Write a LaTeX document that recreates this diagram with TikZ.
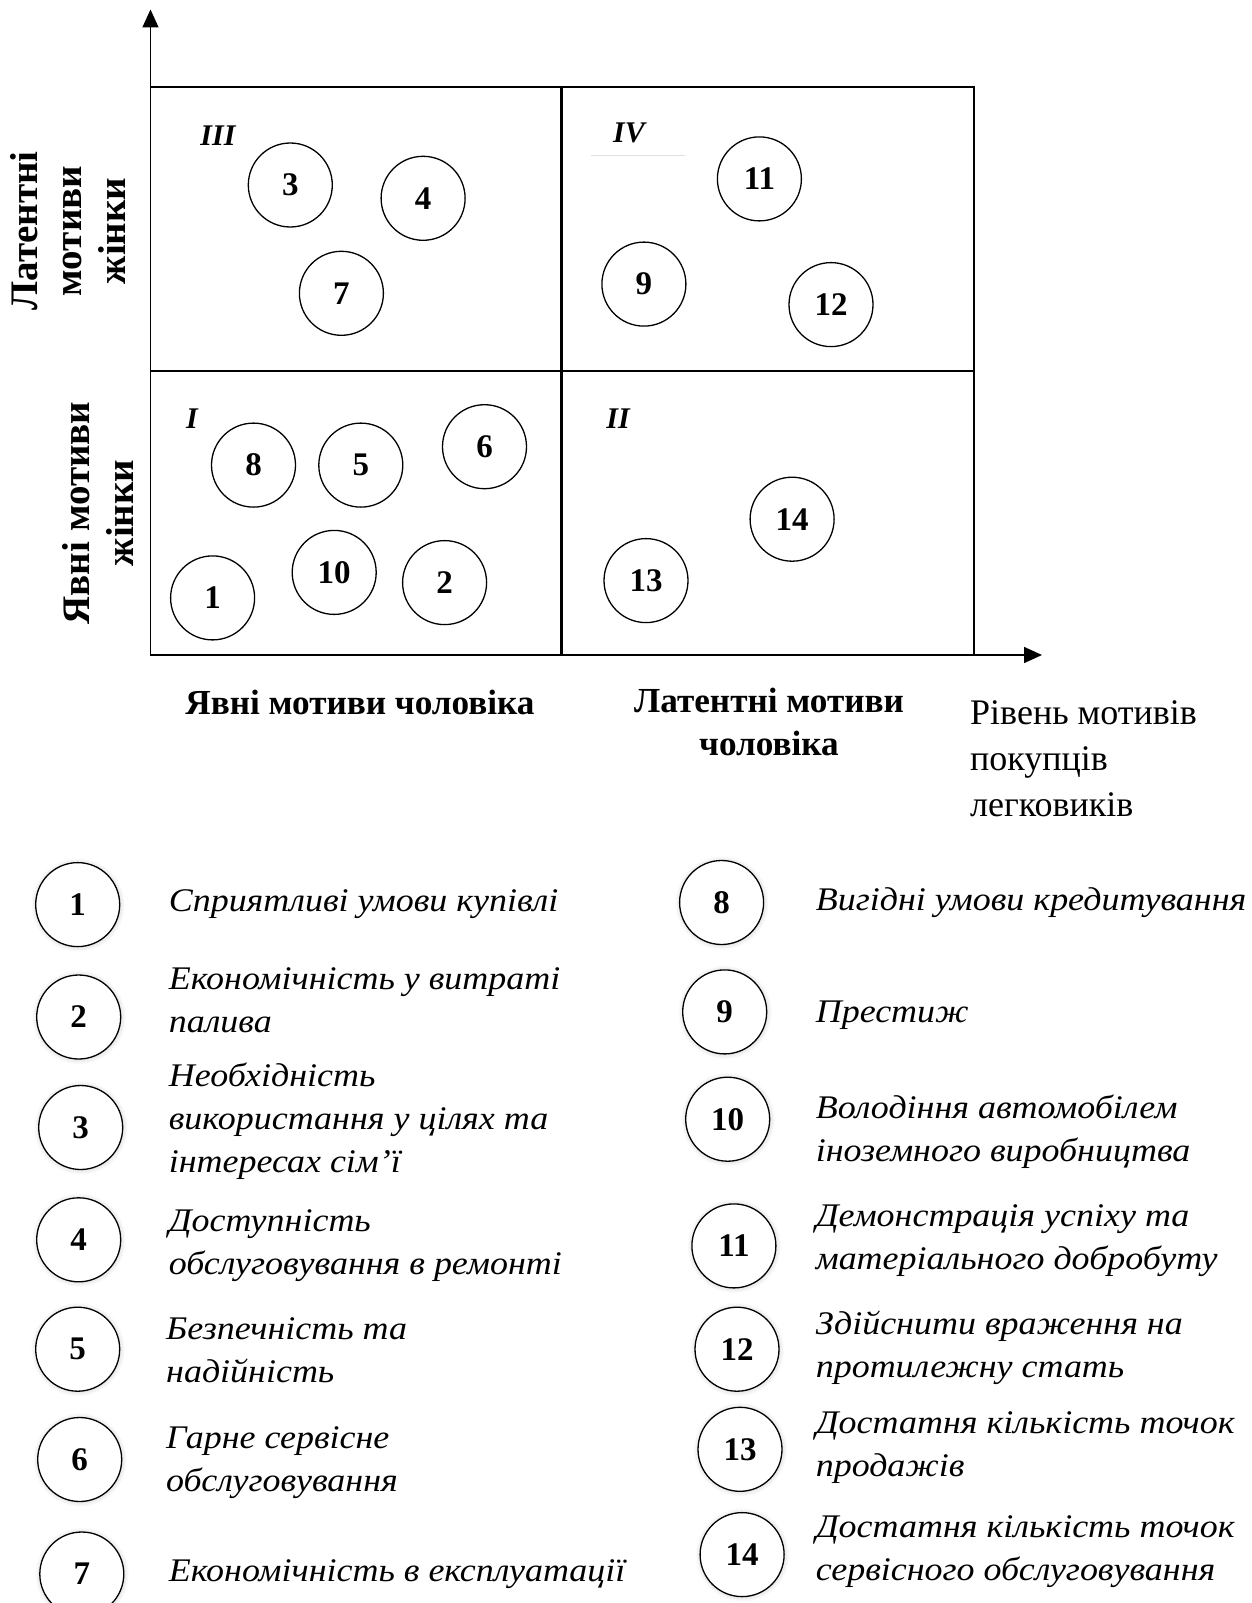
\documentclass[tikz,border=0pt]{standalone}
\usepackage{fontspec}
\setmainfont{Liberation Serif}
\newfontfamily\legfont[FakeStretch=1.09]{Liberation Serif}
\usetikzlibrary{arrows.meta,shadows}
\begin{document}
\begin{tikzpicture}[x=1pt,y=-1pt,
  num/.style={circle,draw,line width=1.3pt,minimum size=84pt,inner sep=0pt,
    font=\bfseries\fontsize{33}{33}\selectfont},
  leg/.style={num,fill=white,circular drop shadow={shadow xshift=0pt,shadow yshift=0pt,shadow scale=1.12,opacity=0.25}},
  roman/.style={font=\bfseries\itshape\fontsize{30}{30}\selectfont},
  axlab/.style={font=\bfseries\fontsize{35.2}{43}\selectfont,align=center},
  vlab/.style={font=\bfseries\fontsize{39}{44}\selectfont,align=center,rotate=90},
  desc/.style={anchor=west,align=left,inner sep=0pt,font=\legfont\itshape\fontsize{33}{43}\selectfont},
  frame/.style={line width=1.8pt},
  axis/.style={line width=1.6pt,-{Triangle[length=18pt,width=16pt]}}]
\useasboundingbox (0,0) rectangle (1251,1603);
% frame
\coordinate (o) at (150.5,655);
\coordinate (ytop) at (150.5,9.5);
\coordinate (xend) at (1042,655);
\draw[frame] (150.5,86.9) rectangle (974.1,655);
\draw[frame] (150.5,371) -- (974.1,371);
\draw[line width=2.8pt] (561.1,86.9) -- (561.1,655);
\draw[axis] (o) -- (ytop);
\draw[axis] (o) -- (xend);
% quadrant labels
\node[roman] (q3) at (218,136) {III};
\node[roman] (q4) at (629,133) {IV};
\draw[gray!25,line width=1pt] (591,155.4) -- (685,155.4);
\node[roman] (q1) at (192,419) {I};
\node[roman] (q2) at (618,419) {II};
% chart circles
\node[num] (c3) at (290.3,185.0) {3};
\node[num] (c4) at (423.1,198.3) {4};
\node[num] (c7) at (341.4,293.3) {7};
\node[num] (c11) at (759.4,178.9) {11};
\node[num] (c9) at (643.9,284.1) {9};
\node[num] (c12) at (831.0,304.6) {12};
\node[num] (c8) at (253.5,465.1) {8};
\node[num] (c5) at (360.8,465.1) {5};
\node[num] (c6) at (484.5,446.7) {6};
\node[num] (c1) at (212.6,597.9) {1};
\node[num] (c10) at (334.2,572.4) {10};
\node[num] (c2) at (444.6,582.6) {2};
\node[num] (c14) at (792.1,519.2) {14};
\node[num] (c13) at (646.0,580.6) {13};
% axis labels
\node[vlab] (vl1) at (68,231) {Латентні\\мотиви\\жінки};
\node[vlab] (vl2) at (97.5,513) {Явні мотиви\\жінки};
\node[axlab] (hl1) at (360,702) {Явні мотиви чоловіка};
\node[axlab] (hl2) at (769,721.6) {Латентні мотиви\\чоловіка};
\node[anchor=west,align=left,inner sep=0pt,font=\fontsize{36}{46}\selectfont] (lvl) at (970,759) {Рівень мотивів\\покупців\\легковиків};
% legend
\node[leg] (l1) at (77.7,904.6) {1};
\node[leg] (l2) at (78.7,1017) {2};
\node[leg] (l3) at (80.7,1127.5) {3};
\node[leg] (l4) at (78.7,1239.8) {4};
\node[leg] (l5) at (77.7,1349.2) {5};
\node[leg] (l6) at (79.7,1459.5) {6};
\node[leg] (l7) at (81.8,1574.0) {7};
\node[leg] (l8) at (721.6,902.5) {8};
\node[leg] (l9) at (724.7,1011.9) {9};
\node[leg] (l10) at (727.7,1119.2) {10};
\node[leg] (l11) at (733.9,1245.9) {11};
\node[leg] (l12) at (737.0,1349.2) {12};
\node[leg] (l13) at (740.0,1449.3) {13};
\node[leg] (l14) at (742.1,1554.6) {14};
\node[desc] (t1) at (168.6,904.6) {Сприятливі умови купівлі};
\node[desc] (t2) at (168.6,1000.6) {Економічність у витраті\\палива};
\node[desc] (t3) at (168.6,1121.2) {Необхідність\\використання у цілях та\\інтересах сім’ї};
\node[desc] (t4) at (168.6,1246) {Доступність\\ обслуговування в ремонті};
\node[desc] (t5) at (166,1350.7) {Безпечність та\\надійність};
\node[desc] (t6) at (166,1463) {Гарне сервісне\\обслуговування};
\node[desc] (t7) at (168.6,1574.0) {Економічність в експлуатації};
\node[desc] (t8) at (815.6,902.5) {Вигідні умови кредитування};
\node[desc] (t9) at (815.6,1014.9) {Престиж};
\node[desc] (t10) at (815.6,1132) {Володіння автомобілем\\іноземного виробництва};
\node[desc] (t11) at (815.6,1240.9) {Демонстрація успіху та\\матеріального добробуту};
\node[desc] (t12) at (815.6,1348.2) {Здійснити враження на\\протилежну стать};
\node[desc] (t13) at (815.6,1447.3) {Достатня кількість точок\\продажів};
\node[desc] (t14) at (815.6,1552) {Достатня кількість точок\\сервісного обслуговування};
\end{tikzpicture}
\end{document}
